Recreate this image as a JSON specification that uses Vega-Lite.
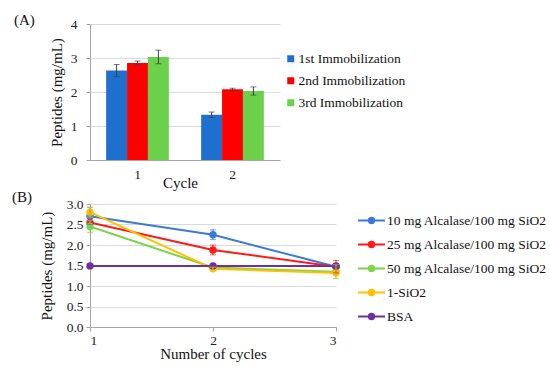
{
  "$schema": "https://vega.github.io/schema/vega-lite/v6.json",
  "padding": {"left": 12, "top": 13, "right": 2, "bottom": 2},
  "spacing": -1,
  "config": {
    "font": "Liberation Serif",
    "view": {"stroke": null},
    "axis": {"labelFont": "Liberation Serif", "titleFont": "Liberation Serif", "labelFontSize": 13.5, "titleFontSize": 15, "titleFontWeight": "normal", "labelColor": "#222", "titleColor": "#111", "domainColor": "#a6a6a6", "tickColor": "#a6a6a6", "gridColor": "#d9d9d9", "labelOverlap": false},
    "legend": {"labelFont": "Liberation Serif", "labelFontSize": 13.5, "labelColor": "#111"},
    "title": {"font": "Liberation Serif", "fontSize": 15, "fontWeight": "normal", "anchor": "start", "color": "#111", "frame": "group"}
  },
  "datasets": {
    "barsA": [
      {"cycle": "1", "imm": "1st Immobilization", "v": 2.63, "lo": 2.45, "hi": 2.81},
      {"cycle": "1", "imm": "2nd Immobilization", "v": 2.85, "lo": 2.79, "hi": 2.91},
      {"cycle": "1", "imm": "3rd Immobilization", "v": 3.03, "lo": 2.83, "hi": 3.23},
      {"cycle": "2", "imm": "1st Immobilization", "v": 1.33, "lo": 1.25, "hi": 1.41},
      {"cycle": "2", "imm": "2nd Immobilization", "v": 2.08, "lo": 2.05, "hi": 2.11},
      {"cycle": "2", "imm": "3rd Immobilization", "v": 2.03, "lo": 1.91, "hi": 2.15}
    ],
    "linesB": [
      {"cycle": 1, "series": "10 mg Alcalase/100 mg SiO2", "v": 2.7},
      {"cycle": 2, "series": "10 mg Alcalase/100 mg SiO2", "v": 2.25},
      {"cycle": 3, "series": "10 mg Alcalase/100 mg SiO2", "v": 1.47},
      {"cycle": 1, "series": "25 mg Alcalase/100 mg SiO2", "v": 2.55},
      {"cycle": 2, "series": "25 mg Alcalase/100 mg SiO2", "v": 1.88},
      {"cycle": 3, "series": "25 mg Alcalase/100 mg SiO2", "v": 1.47},
      {"cycle": 1, "series": "50 mg Alcalase/100 mg SiO2", "v": 2.45},
      {"cycle": 2, "series": "50 mg Alcalase/100 mg SiO2", "v": 1.45},
      {"cycle": 3, "series": "50 mg Alcalase/100 mg SiO2", "v": 1.35},
      {"cycle": 1, "series": "1-SiO2", "v": 2.8},
      {"cycle": 2, "series": "1-SiO2", "v": 1.42},
      {"cycle": 3, "series": "1-SiO2", "v": 1.32},
      {"cycle": 1, "series": "BSA", "v": 1.49},
      {"cycle": 2, "series": "BSA", "v": 1.49},
      {"cycle": 3, "series": "BSA", "v": 1.49}
    ],
    "errB": [
      {"cycle": 1, "series": "10 mg Alcalase/100 mg SiO2", "lo": 2.5, "hi": 2.92},
      {"cycle": 2, "series": "10 mg Alcalase/100 mg SiO2", "lo": 2.13, "hi": 2.37},
      {"cycle": 2, "series": "25 mg Alcalase/100 mg SiO2", "lo": 1.76, "hi": 2.0},
      {"cycle": 3, "series": "25 mg Alcalase/100 mg SiO2", "lo": 1.32, "hi": 1.62},
      {"cycle": 1, "series": "50 mg Alcalase/100 mg SiO2", "lo": 2.3, "hi": 2.6},
      {"cycle": 3, "series": "50 mg Alcalase/100 mg SiO2", "lo": 1.18, "hi": 1.52},
      {"cycle": 1, "series": "1-SiO2", "lo": 2.68, "hi": 2.92},
      {"cycle": 2, "series": "1-SiO2", "lo": 1.38, "hi": 1.46}
    ]
  },
  "resolve": {"scale": {"color": "independent"}, "legend": {"color": "independent"}},
  "vconcat": [
    {
      "width": 190,
      "height": 136,
      "title": {"text": "(A)", "dx": -76, "offset": -11},
      "data": {"name": "barsA"},
      "encoding": {
        "x": {"field": "cycle", "type": "nominal", "scale": {"paddingInner": 0.34, "paddingOuter": 0.17}, "axis": {"title": "Cycle", "labelAngle": 0, "ticks": false, "labelPadding": 7, "titlePadding": -5, "titleX": 90}},
        "xOffset": {"field": "imm", "type": "nominal", "scale": {"paddingInner": 0, "paddingOuter": 0}}
      },
      "layer": [
        {
          "mark": "bar",
          "encoding": {
            "y": {"field": "v", "type": "quantitative", "scale": {"domain": [0, 4]}, "axis": {"tickCount": 4, "title": "Peptides (mg/mL)", "grid": true, "tickSize": 4, "labelPadding": 9, "titlePadding": 6}},
            "color": {"field": "imm", "type": "nominal", "scale": {"domain": ["1st Immobilization", "2nd Immobilization", "3rd Immobilization"], "range": ["#1f6fcf", "#ff0000", "#6bd14a"]}, "legend": {"title": null, "orient": "none", "legendX": 194, "legendY": 28, "symbolType": "square", "symbolSize": 49, "rowPadding": 7, "labelOffset": 1, "symbolOpacity": 1}}
          }
        },
        {
          "mark": {"type": "rule", "color": "#404040"},
          "encoding": {"y": {"field": "lo", "type": "quantitative", "scale": {"domain": [0, 4]}, "axis": {"tickCount": 4, "title": "Peptides (mg/mL)", "grid": true, "tickSize": 4, "labelPadding": 9, "titlePadding": 6}}, "y2": {"field": "hi"}}
        },
        {
          "mark": {"type": "tick", "color": "#404040", "size": 6, "thickness": 1, "orient": "horizontal"},
          "encoding": {"y": {"field": "lo", "type": "quantitative", "scale": {"domain": [0, 4]}, "axis": {"tickCount": 4, "title": "Peptides (mg/mL)", "grid": true, "tickSize": 4, "labelPadding": 9, "titlePadding": 6}}}
        },
        {
          "mark": {"type": "tick", "color": "#404040", "size": 6, "thickness": 1, "orient": "horizontal"},
          "encoding": {"y": {"field": "hi", "type": "quantitative", "scale": {"domain": [0, 4]}, "axis": {"tickCount": 4, "title": "Peptides (mg/mL)", "grid": true, "tickSize": 4, "labelPadding": 9, "titlePadding": 6}}}
        }
      ]
    },
    {
      "width": 246,
      "height": 123,
      "title": {"text": "(B)", "dx": -78, "offset": -8},
      "encoding": {
        "x": {"field": "cycle", "type": "quantitative", "scale": {"domain": [1, 3], "zero": false}, "axis": {"tickCount": 2, "format": "d", "title": "Number  of cycles", "grid": false, "tickSize": 4, "labelPadding": 2, "titlePadding": 0}},
        "color": {"field": "series", "type": "nominal", "scale": {"domain": ["10 mg Alcalase/100 mg SiO2", "25 mg Alcalase/100 mg SiO2", "50 mg Alcalase/100 mg SiO2", "1-SiO2", "BSA"], "range": ["#3b7ad6", "#ff1a1a", "#7ed348", "#ffc000", "#7030a0"]}, "legend": {"title": null, "orient": "none", "legendX": 267, "legendY": 2, "symbolType": "M-1,0H-0.2A0.2,0.2,0,1,1,0.2,0A0.2,0.2,0,1,1,-0.2,0M0.2,0H1", "symbolSize": 729, "symbolStrokeWidth": 2, "rowPadding": 2, "labelOffset": 1}}
      },
      "layer": [
        {
          "data": {"name": "linesB"},
          "mark": {"type": "line", "strokeWidth": 2, "point": {"filled": true, "size": 55}},
          "encoding": {
            "y": {"field": "v", "type": "quantitative", "scale": {"domain": [0, 3]}, "axis": {"tickCount": 6, "format": ".1f", "title": "Peptides (mg/mL)", "grid": true, "tickSize": 4, "labelPadding": 3, "titlePadding": 12}}
          }
        },
        {
          "data": {"name": "errB"},
          "mark": {"type": "rule", "strokeWidth": 1},
          "encoding": {
            "y": {"field": "lo", "type": "quantitative", "scale": {"domain": [0, 3]}, "axis": {"tickCount": 6, "format": ".1f", "title": "Peptides (mg/mL)", "grid": true, "tickSize": 4, "labelPadding": 3, "titlePadding": 12}},
            "y2": {"field": "hi"}
          }
        },
        {
          "data": {"name": "errB"},
          "mark": {"type": "tick", "size": 6, "thickness": 1, "orient": "horizontal"},
          "encoding": {
            "y": {"field": "lo", "type": "quantitative", "scale": {"domain": [0, 3]}, "axis": {"tickCount": 6, "format": ".1f", "title": "Peptides (mg/mL)", "grid": true, "tickSize": 4, "labelPadding": 3, "titlePadding": 12}}
          }
        },
        {
          "data": {"name": "errB"},
          "mark": {"type": "tick", "size": 6, "thickness": 1, "orient": "horizontal"},
          "encoding": {
            "y": {"field": "hi", "type": "quantitative", "scale": {"domain": [0, 3]}, "axis": {"tickCount": 6, "format": ".1f", "title": "Peptides (mg/mL)", "grid": true, "tickSize": 4, "labelPadding": 3, "titlePadding": 12}}
          }
        }
      ]
    }
  ]
}
